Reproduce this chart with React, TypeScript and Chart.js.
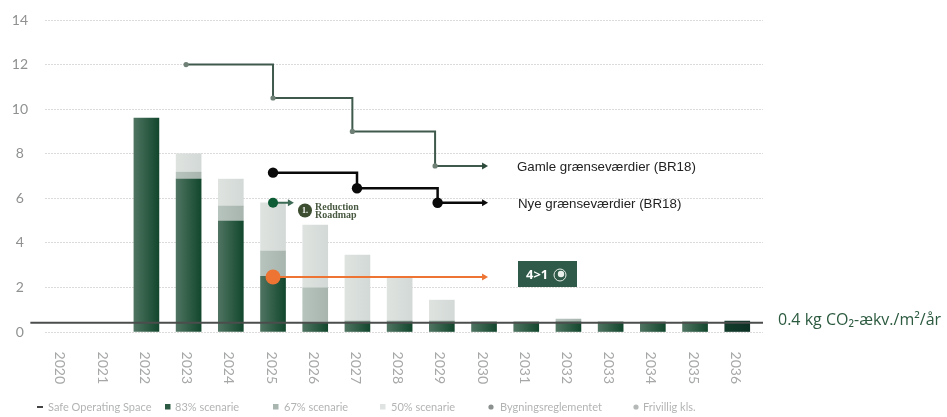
import React, { useEffect, useRef } from "react";
import { Chart, registerables } from "chart.js";

Chart.register(...registerables);

const years = [2020, 2021, 2022, 2023, 2024, 2025, 2026, 2027, 2028, 2029, 2030, 2031, 2032, 2033, 2034, 2035, 2036];
const s83 = [null, null, 9.6, 6.86, 4.98, 2.5, 0.42, 0.45, 0.45, 0.45, 0.45, 0.45, 0.45, 0.45, 0.45, 0.45, 0.49];
const s67 = [null, null, null, 0.31, 0.67, 1.13, 1.56, 0.05, 0.05, 0.05, null, null, 0.13, null, null, null, null];
const s50 = [null, null, null, 0.83, 1.21, 2.17, 2.82, 2.95, 1.92, 0.93, null, null, null, null, null, null, null];

const oldLimitX = [2022.94, 2025, 2026.88, 2028.84, 2030.0];
const oldLimitY = [12, 10.5, 9, 7.45, 7.45];
const newLimitX = [2025, 2026.99, 2028.9, 2030.0];
const newLimitY = [7.15, 6.45, 5.8, 5.8];
const roadmapX = [2025, 2025.4];
const roadmapY = [5.8, 5.8];
const orangeX = [2025, 2030.0];
const orangeY = [2.47, 2.47];
const safeX = [2019.25, 2036.61];
const safeY = [0.42, 0.42];

const toXY = (xs: number[], ys: number[]) => xs.map((x, i) => ({ x, y: ys[i] }));
const yearXY = (ys: (number | null)[]) => years.map((x, i) => ({ x, y: ys[i] }));

const barGradient = (from: string, to: string) => (ctx: any) => {
  const p = ctx.parsed;
  if (!p || !ctx.chart.scales.x) return to;
  const cx = ctx.chart.scales.x.getPixelForValue(p.x);
  if (!Number.isFinite(cx)) return to;
  const g = ctx.chart.ctx.createLinearGradient(cx - 12.5, 0, cx + 12.5, 0);
  g.addColorStop(0, from);
  g.addColorStop(1, to);
  return g;
};

const dark = (ctx: any) => {
  if (ctx.parsed && ctx.parsed.x === 2036) return barGradient("#123c2c", "#0c3124")(ctx);
  return barGradient("#4f7461", "#12472d")(ctx);
};

const arrowRadii = (n: number, r: number, a: number) => Array.from({ length: n }, (_, i) => (i === n - 1 ? a : r));
const arrowStyles = (n: number) => Array.from({ length: n }, (_, i) => (i === n - 1 ? "triangle" : "circle"));
const arrowRot = (n: number) => Array.from({ length: n }, (_, i) => (i === n - 1 ? 90 : 0));

const overlay = {
  id: "overlay",
  afterDraw(chart: any) {
    const c = chart.ctx as CanvasRenderingContext2D;
    c.save();
    c.textBaseline = "middle";
    c.textAlign = "left";

    c.fillStyle = "#222";
    c.font = '13.3px "Liberation Sans"';
    c.fillText("Gamle grænseværdier (BR18)", 517, 167);
    c.fillText("Nye grænseværdier (BR18)", 518, 204.5);

    c.fillStyle = "#2b5a3f";
    c.font = '16px "Open Sans"';
    c.fillText("0.4 kg CO₂-ækv./m²/år", 778, 320);

    // Reduction Roadmap badge
    c.fillStyle = "#3c4d30";
    c.beginPath();
    c.arc(305, 210.5, 7, 0, Math.PI * 2);
    c.fill();
    c.fillStyle = "#fff";
    c.textAlign = "center";
    c.font = 'bold 8px "Liberation Serif"';
    c.fillText("1.", 305, 211);
    c.textAlign = "left";
    c.fillStyle = "#4a5a42";
    c.font = 'bold 10px "Liberation Serif"';
    c.fillText("Reduction", 315, 207);
    c.fillText("Roadmap", 315, 215.5);

    // 4>1 badge
    c.fillStyle = "#2f5a4a";
    c.fillRect(518, 261, 59, 26);
    c.fillStyle = "#fff";
    c.font = 'bold 13px "Open Sans"';
    c.fillText("4>1", 526, 275);
    c.strokeStyle = "#e8eeea";
    c.lineWidth = 1;
    c.beginPath();
    c.arc(560, 275, 6, 0, Math.PI * 2);
    c.stroke();
    c.fillStyle = "#e8eeea";
    c.beginPath();
    c.arc(561, 274, 3.2, 0, Math.PI * 2);
    c.fill();

    // Legend
    const ly = 407;
    c.font = '11px "Lato"';
    const legend = [
      { t: "Safe Operating Space", tx: 48, kind: "dash", mx: 37, col: "#444" },
      { t: "83% scenarie", tx: 175, kind: "sq", mx: 165, col: "#2d5a43" },
      { t: "67% scenarie", tx: 284, kind: "sq", mx: 273, col: "#a9b5af" },
      { t: "50% scenarie", tx: 391, kind: "sq", mx: 380, col: "#dfe3e1" },
      { t: "Bygningsreglementet", tx: 500, kind: "dot", mx: 491, col: "#8b918e" },
      { t: "Frivillig kls.", tx: 643, kind: "dot", mx: 636, col: "#b4b8b6" },
    ];
    legend.forEach((l) => {
      c.fillStyle = l.col;
      if (l.kind === "dash") c.fillRect(l.mx, ly - 1, 6, 2);
      if (l.kind === "sq") c.fillRect(l.mx, ly - 3, 5.5, 5.5);
      if (l.kind === "dot") {
        c.beginPath();
        c.arc(l.mx, ly, 2.6, 0, Math.PI * 2);
        c.fill();
      }
      c.fillStyle = "#b2b4b3";
      c.fillText(l.t, l.tx, ly);
    });
    c.restore();
  },
};

export default function App() {
  const ref = useRef<HTMLCanvasElement>(null);
  useEffect(() => {
    const chart = new Chart(ref.current as HTMLCanvasElement, {
      type: "bar",
      plugins: [overlay],
      data: {
        datasets: [
          {
            type: "line", label: "Gamle grænseværdier (BR18)", data: toXY(oldLimitX, oldLimitY), stepped: true, order: 2,
            borderColor: "#3f5a4d", borderWidth: 2, clip: false,
            pointRadius: arrowRadii(5, 2.6, 4), pointStyle: arrowStyles(5), pointRotation: arrowRot(5),
            pointBackgroundColor: ["#6f8177", "#6f8177", "#6f8177", "#6f8177", "#2c4a3a"], pointBorderWidth: 0,
          },
          {
            type: "line", label: "Nye grænseværdier (BR18)", data: toXY(newLimitX, newLimitY), stepped: true, order: 1,
            borderColor: "#0a0a0a", borderWidth: 2.5, clip: false,
            pointRadius: arrowRadii(4, 5.2, 4), pointStyle: arrowStyles(4), pointRotation: arrowRot(4),
            pointBackgroundColor: "#0a0a0a", pointBorderWidth: 0,
          },
          {
            type: "line", label: "Reduction Roadmap", data: toXY(roadmapX, roadmapY), order: 1,
            borderColor: "#3d6b55", borderWidth: 2, clip: false,
            pointRadius: arrowRadii(2, 5, 4), pointStyle: arrowStyles(2), pointRotation: arrowRot(2),
            pointBackgroundColor: ["#0d5c36", "#3d6b55"], pointBorderWidth: 0,
          },
          {
            type: "line", label: "4>1", data: toXY(orangeX, orangeY), order: 1,
            borderColor: "#ed7433", borderWidth: 2, clip: false,
            pointRadius: arrowRadii(2, 7.5, 4), pointStyle: arrowStyles(2), pointRotation: arrowRot(2),
            pointBackgroundColor: "#ed7433", pointBorderWidth: 0,
          },
          {
            type: "line", label: "Safe Operating Space", data: toXY(safeX, safeY), order: 3,
            borderColor: "#4b4d4c", borderWidth: 2, pointRadius: 0, clip: false,
          },
          { label: "83% scenarie", data: yearXY(s83), stack: "s", order: 5, barThickness: 25, backgroundColor: dark },
          { label: "67% scenarie", data: yearXY(s67), stack: "s", order: 5, barThickness: 25, backgroundColor: barGradient("#b7c4bd", "#a7b5ae") },
          { label: "50% scenarie", data: yearXY(s50), stack: "s", order: 5, barThickness: 25, backgroundColor: barGradient("#dee3e0", "#d3d9d6") },
        ],
      } as any,
      options: {
        responsive: false,
        animation: false,
        layout: { padding: { top: 20, right: 184, left: 0, bottom: 0 } },
        plugins: { legend: { display: false }, tooltip: { enabled: false } },
        scales: {
          x: {
            type: "linear",
            offset: false,
            min: 2019.597,
            max: 2036.61,
            grid: { display: false, offset: false },
            border: { display: false },
            afterBuildTicks: (s: any) => {
              s.ticks = years.map((value) => ({ value }));
            },
            afterFit: (s: any) => {
              s.height = 85;
              s.paddingLeft = 0;
              s.paddingRight = 0;
            },
            ticks: {
              autoSkip: false,
              minRotation: -90,
              maxRotation: -90,
              padding: 44,
              labelOffset: -2,
              color: "#a6a8a7",
              font: { family: "Lato", size: 14 },
              callback: (v: any) => String(v),
            },
          },
          y: {
            min: 0,
            max: 14,
            afterFit: (s: any) => {
              s.width = 45;
              s.paddingTop = 0;
              s.paddingBottom = 0;
            },
            grid: { color: "#dcdada", lineWidth: 1, drawTicks: false },
            border: { display: false, dash: [2, 1] },
            ticks: {
              stepSize: 2,
              padding: 17,
              crossAlign: "center",
              color: "#8f9190",
              font: { family: "Lato", size: 14 },
            },
          },
        },
      } as any,
    });
    return () => chart.destroy();
  }, []);
  return (
    <div style={{ position: "fixed", left: 0, top: 0, width: 947, height: 417, background: "#fff" }}>
      <canvas ref={ref} width={947} height={417} style={{ display: "block" }} />
    </div>
  );
}
